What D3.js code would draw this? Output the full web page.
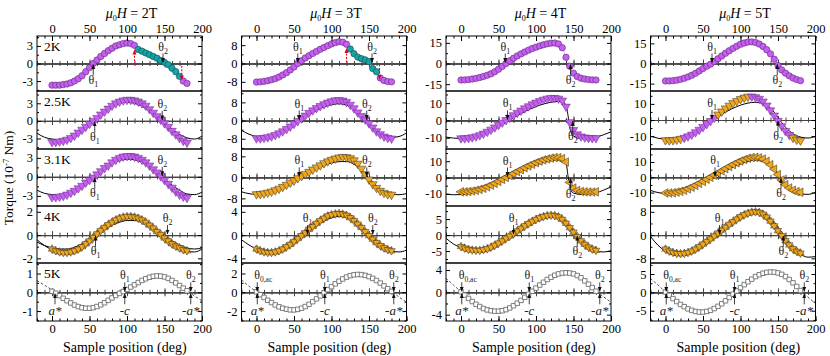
<!DOCTYPE html>
<html>
<head>
<meta charset="utf-8">
<script src="https://cdnjs.cloudflare.com/ajax/libs/d3/7.8.5/d3.min.js"></script>
<style>
  body { margin: 0; background: #fff; }
  svg { font-family: "Liberation Serif", "Times New Roman", serif; }
</style>
</head>
<body>
<svg id="chart" width="830" height="356"></svg>
<script>
// categories
const fields = ["2T", "3T", "4T", "5T"];
const temps = ["2K", "2.5K", "3.1K", "4K", "5K"];
const angles = [0,5,10,15,20,25,30,35,40,45,50,55,60,65,70,75,80,85,90,95,100,105,110,115,120,125,130,135,140,145,150,155,160,165,170,175,180];
const fitAngles = [-20,-10,0,10,20,30,40,50,60,70,80,90,100,110,120,130,140,150,160,170,180,190,200];
const xLabelTicks = [0, 50, 100, 150, 200];

// y ranges and tick labels, row by row (2K ... 5K), column by column (2T ... 5T)
const yDomains = [
  [[-4.7, 4.7], [-12, 12], [-20, 20], [-20.5, 20.5]],
  [[-4.8, 5.1], [-12.5, 13], [-16.5, 17], [-18, 18]],
  [[-4.6, 4.4], [-10.9, 10.8], [-17.5, 17.5], [-18.8, 18.5]],
  [[-2.4, 2.5], [-4.8, 5.0], [-8.75, 9.1], [-9.6, 10]],
  [[-1.53, 1.56], [-3.06, 3.12], [-5.14, 5.25], [-7.8, 8]]
];
const yTicks = [
  [[-3, 0, 3], [-8, 0, 8], [-15, 0, 15], [-15, 0, 15]],
  [[-3, 0, 3], [-8, 0, 8], [-10, 0, 10], [-10, 0, 10]],
  [[-3, 0, 3], [-8, 0, 8], [-10, 0, 10], [-10, 0, 10]],
  [[-2, 0, 2], [-4, 0, 4], [-5, 0, 5], [-8, 0, 8]],
  [[-1, 0, 1], [-2, 0, 2], [-4, 0, 4], [-5, 0, 5]]
];

// torque data (10^-7 Nm) at the sample positions in `angles`
const t2K_2T = [-3.7,-3.7,-3.7,-3.6,-3.5,-3.3,-3.0,-2.6,-2.1,-1.4,-0.7,0.0,0.6,1.2,1.7,2.2,2.6,3.0,3.2,3.4,3.5,3.4,3.1,2.4,2.1,1.8,1.5,1.2,0.9,0.5,0.2,-0.2,-0.8,-1.4,-2.2,-3.0,-3.4];
const t2K_3T = [-8.1,-8.0,-7.8,-7.5,-7.1,-6.6,-5.9,-5.0,-4.0,-2.8,-1.5,0.0,1.2,2.4,3.4,4.4,5.3,6.2,7.0,7.8,8.5,9.1,9.5,9.3,8.4,6.3,4.3,2.8,2.1,1.6,0.8,-2.2,-3.6,-6.3,-7.4,-7.9,-8.0];
const t2K_4T = [-12,-11.9,-11.7,-11.3,-10.8,-10.2,-9.4,-8.5,-7.5,-6.0,-4.2,-2.1,0.0,2.0,3.8,5.5,7.0,8.4,9.7,10.9,11.9,12.8,13.6,14.3,14.8,14.9,14.2,11.5,4.5,-2.0,-7.0,-9.5,-10.7,-11.3,-11.7,-11.9,-12];
const t2K_5T = [-13,-13,-12.8,-12.4,-11.8,-11,-10,-8.8,-7.3,-5.6,-3.8,-2.0,-0.5,1.5,3.5,5.6,7.6,9.5,11.3,12.9,14.3,15.3,16.0,16.1,15.6,14.5,12.7,10.2,7.2,3.2,-1.5,-4.8,-7.2,-9.2,-10.8,-12.0,-12.8];

const t25_2T = [-3.6,-3.6,-3.5,-3.4,-3.2,-2.9,-2.5,-2.0,-1.5,-1.0,-0.5,0.0,0.5,1.1,1.6,2.1,2.6,3.0,3.3,3.5,3.6,3.6,3.5,3.3,3.0,2.6,2.0,1.4,0.8,0.2,-0.4,-1.0,-1.7,-2.3,-2.9,-3.4,-3.7];
const t25_3T = [-7.8,-7.8,-7.6,-7.3,-6.9,-6.3,-5.6,-4.7,-3.7,-2.6,-1.4,-0.2,1.0,2.2,3.4,4.5,5.5,6.4,7.2,7.9,8.5,8.9,9.0,8.8,8.2,7.0,5.4,3.6,2.0,0.5,-1.2,-3.0,-4.7,-6.0,-7.0,-7.6,-7.9];
const t25_4T = [-10.3,-10.3,-10.1,-9.7,-9.2,-8.5,-7.6,-6.5,-5.3,-4.0,-2.6,-1.2,0.2,1.6,3.0,4.4,5.7,7.0,8.2,9.3,10.3,11.2,12.0,12.6,13.0,13.0,12.6,11.5,8.0,-1.0,-5.5,-8.0,-9.2,-9.8,-10.1,-10.2,-10.2];
const t25_5T = [-12.5,-12.6,-12.5,-12.2,-11.7,-11.0,-10.1,-9.0,-7.6,-6.0,-4.3,-2.5,-0.6,1.4,3.4,5.3,7.2,8.9,10.5,11.8,13.0,13.9,14.5,14.6,14.2,13.2,11.5,9.0,6.0,2.8,-0.5,-3.8,-6.8,-9.2,-11.0,-12.2,-12.7];

const t31_2T = [-3.2,-3.2,-3.1,-3.0,-2.8,-2.5,-2.2,-1.8,-1.4,-0.9,-0.5,-0.1,0.4,0.9,1.4,1.8,2.3,2.7,3.0,3.2,3.3,3.3,3.2,3.0,2.7,2.3,1.8,1.2,0.7,0.1,-0.5,-1.1,-1.7,-2.3,-2.8,-3.1,-3.3];
const t31_3T = [-6.4,-6.3,-6.1,-5.8,-5.4,-4.9,-4.3,-3.6,-2.8,-2.0,-1.2,-0.3,0.5,1.3,2.1,3.0,3.8,4.6,5.4,6.1,6.7,7.2,7.6,7.8,7.7,7.3,6.5,5.2,3.3,1.2,-0.8,-2.6,-4.0,-5.1,-5.9,-6.4,-6.6];
const t31_4T = [-8.8,-8.8,-8.6,-8.3,-7.9,-7.3,-6.6,-5.7,-4.7,-3.6,-2.4,-1.2,0.0,1.2,2.4,3.6,4.8,6.0,7.1,8.1,9.1,10.0,10.8,11.4,11.9,12.2,12.2,11.6,9.5,-3.0,-6.5,-8.0,-8.6,-8.8,-8.9,-8.9,-8.8];
const t31_5T = [-10.3,-10.3,-10.1,-9.7,-9.2,-8.5,-7.6,-6.5,-5.3,-4.0,-2.7,-1.3,0.0,1.4,2.8,4.2,5.6,7.0,8.3,9.5,10.6,11.6,12.4,12.9,13.0,12.7,11.9,10.4,8.2,5.3,1.8,-1.8,-4.8,-7.0,-8.5,-9.4,-9.8];

const t4K_2T = [-1.2,-1.35,-1.45,-1.5,-1.5,-1.45,-1.35,-1.2,-1.0,-0.75,-0.5,-0.2,0.1,0.4,0.65,0.9,1.1,1.3,1.45,1.55,1.6,1.6,1.55,1.45,1.3,1.1,0.85,0.6,0.3,0.05,-0.25,-0.5,-0.75,-0.95,-1.1,-1.25,-1.35];
const t4K_3T = [-2.4,-2.7,-2.9,-3.0,-3.0,-2.9,-2.7,-2.4,-2.0,-1.6,-1.1,-0.6,-0.1,0.4,1.0,1.5,2.0,2.5,2.9,3.3,3.5,3.65,3.7,3.6,3.4,3.0,2.5,1.9,1.3,0.6,-0.1,-0.7,-1.3,-1.8,-2.2,-2.5,-2.7];
const t4K_4T = [-3.6,-4.1,-4.5,-4.7,-4.8,-4.8,-4.6,-4.3,-3.8,-3.2,-2.5,-1.8,-1.0,-0.3,0.5,1.3,2.1,2.9,3.6,4.3,4.9,5.4,5.8,6.1,6.2,6.1,5.7,4.9,3.7,2.3,0.9,-0.5,-1.8,-2.9,-3.8,-4.4,-4.8];
const t4K_5T = [-4.8,-5.5,-6.0,-6.3,-6.4,-6.3,-6.0,-5.5,-4.8,-4.0,-3.1,-2.2,-1.3,-0.3,0.7,1.7,2.7,3.7,4.6,5.5,6.3,7.0,7.5,7.9,8.0,7.8,7.2,6.2,4.8,3.2,1.5,-0.2,-1.9,-3.4,-4.7,-5.6,-6.2];

const t5K_2T = [0.05,-0.05,-0.18,-0.32,-0.45,-0.57,-0.68,-0.76,-0.82,-0.85,-0.85,-0.82,-0.76,-0.67,-0.56,-0.43,-0.3,-0.17,-0.06,0.04,0.15,0.28,0.4,0.52,0.63,0.72,0.8,0.85,0.87,0.86,0.82,0.74,0.63,0.5,0.36,0.22,0.08];
const t5K_3T = [0.05,-0.25,-0.55,-0.85,-1.1,-1.35,-1.55,-1.7,-1.8,-1.87,-1.88,-1.82,-1.7,-1.52,-1.28,-1.0,-0.7,-0.38,-0.05,0.28,0.6,0.9,1.18,1.42,1.62,1.77,1.86,1.9,1.88,1.8,1.67,1.48,1.25,0.98,0.68,0.38,0.1];
const t5K_4T = [0.1,-0.5,-1.1,-1.65,-2.15,-2.55,-2.9,-3.15,-3.3,-3.38,-3.38,-3.3,-3.1,-2.8,-2.4,-1.95,-1.45,-0.9,-0.35,0.2,0.75,1.3,1.8,2.3,2.7,3.05,3.3,3.45,3.5,3.45,3.3,3.0,2.6,2.05,1.45,0.85,0.2];
const t5K_5T = [0.1,-0.8,-1.7,-2.5,-3.3,-3.9,-4.5,-4.9,-5.2,-5.35,-5.35,-5.2,-4.9,-4.4,-3.8,-3.1,-2.3,-1.4,-0.5,0.4,1.3,2.1,2.9,3.6,4.3,4.8,5.2,5.45,5.55,5.5,5.3,4.9,4.3,3.5,2.6,1.6,0.5];

// fitted curves (values at fitAngles unless they carry their own angles)
const fit25_2T = [-2.1,-2.8,-3.1,-3.2,-2.9,-2.3,-1.5,-0.5,0.6,1.6,2.4,3.0,3.2,3.0,2.5,1.7,0.7,-0.4,-1.4,-2.3,-2.9,-3.1,-2.6];
const fit25_3T = [-4.3,-6.0,-7.0,-7.4,-7.0,-5.8,-4.0,-2.0,0.3,2.5,4.4,6.0,7.0,7.4,6.8,5.0,2.2,-1.2,-4.3,-6.5,-7.4,-7.0,-5.5];
const fit25_4T_x = [-20,-10,0,10,20,30,40,50,60,70,80,90,100,110,120,130,135,140,143,146,150,160,170,180,190,200];
const fit25_4T = [-9.6,-10.2,-10.4,-10.2,-9.4,-8.0,-6.0,-3.6,-1.0,1.6,4.0,6.2,8.0,9.5,10.5,11.0,10.8,9.0,2.0,-6.0,-9.0,-10.3,-10.3,-9.6,-8.3,-6.6];
const fit25_5T = [-10.0,-11.3,-11.8,-11.6,-10.6,-9.0,-6.8,-3.8,-0.8,2.2,4.9,7.3,9.2,10.5,11.0,10.2,7.5,1.5,-4.5,-8.5,-10.6,-11.2,-10.2];
const fit31_2T = [-2.1,-2.6,-2.8,-2.9,-2.6,-2.1,-1.3,-0.4,0.5,1.4,2.1,2.6,2.8,2.7,2.3,1.6,0.7,-0.3,-1.3,-2.1,-2.7,-2.8,-2.4];
const fit31_3T = [-5.5,-6.2,-6.5,-6.4,-5.8,-4.8,-3.4,-1.8,0.0,1.7,3.2,4.5,5.5,6.0,6.0,5.0,2.8,-0.3,-3.3,-5.4,-6.4,-6.6,-6.2];
const fit31_4T_x = [-20,-10,0,10,20,30,40,50,60,70,80,90,100,110,120,130,136,140,143,146,150,160,170,180,190,200];
const fit31_4T = [-10.2,-10.6,-10.5,-10.0,-9.0,-7.5,-5.6,-3.4,-1.0,1.4,3.7,5.8,7.7,9.2,10.3,10.8,10.6,9.0,0.0,-7.0,-9.6,-10.4,-10.2,-9.4,-7.8,-5.8];
const fit31_5T = [-8.6,-10.0,-10.6,-10.4,-9.5,-8.0,-6.0,-3.6,-1.0,1.7,4.3,6.7,8.7,10.3,11.2,11.0,8.5,2.5,-4.5,-9.0,-11.0,-11.2,-9.8];
const fit4K_2Ta = [-0.4,-0.9,-1.25,-1.45,-1.5,-1.35,-1.0,-0.5,0.05,0.55,1.0,1.3,1.45,1.45,1.25,0.9,0.4,-0.15,-0.7,-1.1,-1.4,-1.45,-1.2];
const fit4K_2Tb = [-0.6,-0.9,-1.1,-1.2,-1.2,-1.05,-0.75,-0.35,0.1,0.5,0.85,1.1,1.25,1.25,1.1,0.8,0.4,-0.05,-0.5,-0.85,-1.1,-1.2,-1.1];
const fit4K_3T = [-0.8,-1.7,-2.4,-2.8,-2.9,-2.7,-2.1,-1.3,-0.4,0.6,1.6,2.4,3.0,3.2,3.0,2.4,1.4,0.2,-1.0,-2.0,-2.7,-2.9,-2.6];
const fit4K_4T = [-1.0,-2.8,-4.0,-4.8,-5.0,-4.7,-3.9,-2.7,-1.2,0.4,2.0,3.4,4.5,5.3,5.6,5.2,3.8,1.5,-1.3,-3.6,-4.9,-5.3,-4.9];
const fit4K_5T = [-0.5,-3.5,-5.6,-6.8,-7.1,-6.7,-5.6,-4.0,-2.0,0.2,2.4,4.4,6.1,7.3,7.8,7.5,5.8,2.8,-0.9,-4.3,-6.6,-7.6,-7.4];

// dashed extensions at 5K ([angle, torque])
const dash5K = [
  [[[-20,0.62],[-10,0.38],[0,0.12],[10,-0.16]], [[172,0.3],[180,0.08],[190,-0.2],[200,-0.45]]],
  [[[-20,1.3],[-10,0.65],[0,0.05],[8,-0.4]], [[172,0.55],[180,0.1],[190,-0.5],[200,-1.05]]],
  [[[-20,2.5],[-10,1.3],[0,0.1],[8,-0.9]], [[172,1.2],[180,0.2],[190,-0.8],[200,-1.8]]],
  [[[-20,3.8],[-10,2.0],[0,0.1],[8,-1.4]], [[172,2.2],[180,0.5],[190,-1.3],[200,-3.0]]]
];

const series = [
  [t2K_2T, t2K_3T, t2K_4T, t2K_5T],
  [t25_2T, t25_3T, t25_4T, t25_5T],
  [t31_2T, t31_3T, t31_4T, t31_5T],
  [t4K_2T, t4K_3T, t4K_4T, t4K_5T],
  [t5K_2T, t5K_3T, t5K_4T, t5K_5T]
];
const fits = [
  [[], [], [], []],
  [[[fitAngles, fit25_2T]], [[fitAngles, fit25_3T]], [[fit25_4T_x, fit25_4T]], [[fitAngles, fit25_5T]]],
  [[[fitAngles, fit31_2T]], [[fitAngles, fit31_3T]], [[fit31_4T_x, fit31_4T]], [[fitAngles, fit31_5T]]],
  [[[fitAngles, fit4K_2Ta], [fitAngles, fit4K_2Tb]], [[fitAngles, fit4K_3T]], [[fitAngles, fit4K_4T]], [[fitAngles, fit4K_5T]]],
  [[], [], [], []]
];

// marker kinds and colour groups
const markerKinds = [
  ["circle", "circle", "circle", "circle"],
  ["triDown", "triDown", "triDown", "triDown"],
  ["triDown", "triDown", "triLeft", "triLeft"],
  ["star", "star", "star", "star"],
  ["square", "square", "square", "square"]
];
const baseColors = [
  ["violet", "violet", "violet", "violet"],
  ["violet", "violet", "violet", "violet"],
  ["violet", "orange", "orange", "orange"],
  ["orange", "orange", "orange", "orange"],
  ["open", "open", "open", "open"]
];
// [row, col, colour, [from, to] angle ranges]
const altColors = [
  [0, 0, "teal", [[115, 170]]],
  [0, 1, "teal", [[125, 160]]],
  [1, 3, "orange", [[0, 20], [70, 110], [170, 180]]]
];

// theta arrows: [subscript, angle, side]
const thetaMarks = [
  [[["1",55,"below"],["2",148,"above"]], [["1",55,"above"],["2",154,"above"]], [["1",59,"above"],["2",146,"below"]], [["1",62,"above"],["2",149,"below"]]],
  [[["1",57,"below"],["2",147,"above"]], [["1",57,"above"],["2",147,"above"]], [["1",62,"above"],["2",149,"below"]], [["1",62,"above"],["2",150,"below"]]],
  [[["1",57,"below"],["2",147,"above"]], [["1",57,"above"],["2",147,"above"]], [["1",62,"above"],["2",146,"below"]], [["1",66,"above"],["2",154,"below"]]],
  [[["1",58,"below"],["2",154,"above"]], [["1",68,"above"],["2",155,"above"]], [["1",70,"above"],["2",155,"below"]], [["1",72,"above"],["2",157,"below"]]],
  [[["1",97,"above"],["2",185,"above"]], [["0,ac",1,"above"],["1",91,"above"],["2",183,"above"]], [["0,ac",1,"above"],["1",91,"above"],["2",185,"above"]], [["0,ac",1,"above"],["1",92,"above"],["2",185,"above"]]]
];
const axisMarks = [
  [["a*",4],["-c",97],["-a*",185]],
  [["a*",1],["-c",91],["-a*",183]],
  [["a*",1],["-c",91],["-a*",185]],
  [["a*",1],["-c",92],["-a*",185]]
];
// red dashed arrows in the 2K row: [angle, from, to]
const redArrows = [
  [[110, -0.2, 2.3], [173, -0.4, -2.8]],
  [[120, 0.4, 6.5], [164, -0.4, -6.9]],
  [], []
];

const palette = {
  violet: { fill: "#c65ef2", stroke: "#5a2a74" },
  teal: { fill: "#17a3a6", stroke: "#0b4e50" },
  orange: { fill: "#f1a71c", stroke: "#2a2a2a" },
  open: { fill: "#ffffff", stroke: "#6f6f6f" }
};

const svg = d3.select("#chart");
const colLeft = [37, 241.5, 446, 650.5];
const panelW = 165;
const rowEdges = [36, 91, 149, 206, 263, 321];

const defs = svg.append("defs");
[["ah-k", "#111"], ["ah-r", "#e3001b"]].forEach(([id, col]) => {
  defs.append("marker").attr("id", id).attr("viewBox", "0 0 10 10")
    .attr("refX", 9).attr("refY", 5).attr("markerUnits", "userSpaceOnUse")
    .attr("markerWidth", 5).attr("markerHeight", 5).attr("orient", "auto")
    .append("path").attr("d", "M0,1L10,5L0,9z").attr("fill", col);
});

function styleAxis(g) {
  g.attr("font-family", "Liberation Serif, serif").attr("font-size", 12.5);
  g.select(".domain").remove();
  g.selectAll("line").attr("stroke", "#000");
  g.selectAll("text").attr("fill", "#000");
}

function colorAt(r, c, a) {
  let col = baseColors[r][c];
  altColors.forEach(([ar, ac, name, ranges]) => {
    if (ar === r && ac === c && ranges.some(([lo, hi]) => a >= lo && a <= hi)) col = name;
  });
  return col;
}

function drawMarkers(g, pts, kind) {
  if (kind === "circle") {
    g.selectAll(null).data(pts).enter().append("circle")
      .attr("cx", d => d.x).attr("cy", d => d.y).attr("r", 3.2)
      .attr("fill", d => palette[d.col].fill).attr("stroke", d => palette[d.col].stroke).attr("stroke-width", 0.6);
    return;
  }
  const rots = kind === "star" ? [0, 180] : kind === "triDown" ? [180] : kind === "triLeft" ? [-90] : [0];
  const sym = kind === "square" ? d3.symbol(d3.symbolSquare, 20)
    : d3.symbol(d3.symbolTriangle, kind === "star" ? 24 : 32);
  rots.forEach(rot => {
    g.selectAll(null).data(pts).enter().append("path")
      .attr("d", sym)
      .attr("transform", d => `translate(${d.x},${d.y}) rotate(${rot})`)
      .attr("fill", d => palette[d.col].fill)
      .attr("stroke", d => palette[d.col].stroke)
      .attr("stroke-width", kind === "square" ? 0.9 : 0.5);
  });
}

function thetaMark(g, x0, y0, sub, side) {
  const above = side === "above";
  g.append("line").attr("x1", x0).attr("x2", x0)
    .attr("y1", above ? y0 - 10 : y0 + 12).attr("y2", above ? y0 - 1 : y0 + 1)
    .attr("stroke", "#111").attr("stroke-width", 0.8).attr("marker-end", "url(#ah-k)");
  const t = g.append("text").attr("x", x0 + (sub.length > 1 ? 6 : 0)).attr("y", above ? y0 - 13 : y0 + 20)
    .attr("text-anchor", "middle").attr("font-size", 12).attr("fill", "#222");
  t.append("tspan").text("θ");
  t.append("tspan").attr("dy", 3).attr("font-size", sub.length > 1 ? 7.5 : 8).text(sub);
}

function axisMark(g, x0, y0, label) {
  g.append("line").attr("x1", x0).attr("x2", x0).attr("y1", y0 + 12).attr("y2", y0 + 1.5)
    .attr("stroke", "#111").attr("stroke-width", 0.8).attr("marker-end", "url(#ah-k)");
  const t = g.append("text").attr("x", x0).attr("y", y0 + 23).attr("text-anchor", "middle")
    .attr("font-size", 13).attr("fill", "#222");
  if (label.startsWith("-")) t.append("tspan").text("-");
  t.append("tspan").attr("font-style", "italic").text(label.replace("-", ""));
}

temps.forEach((temp, r) => {
  fields.forEach((field, c) => {
    const x0 = colLeft[c], x1 = colLeft[c] + panelW;
    const yTop = rowEdges[r], yBot = rowEdges[r + 1];
    const x = d3.scaleLinear().domain([-20, 200]).range([x0, x1]);
    const y = d3.scaleLinear().domain(yDomains[r][c]).range([yBot, yTop]);
    const clipId = `clip-${r}-${c}`;
    defs.append("clipPath").attr("id", clipId).append("rect")
      .attr("x", x0).attr("y", yTop).attr("width", panelW).attr("height", yBot - yTop);

    const g = svg.append("g");
    const inner = g.append("g").attr("clip-path", `url(#${clipId})`);

    // zero line with crossing ticks
    const y0 = y(0);
    [[d3.axisBottom, x.ticks(22), 2.5], [d3.axisTop, x.ticks(22), 2.5],
     [d3.axisBottom, xLabelTicks, 4], [d3.axisTop, xLabelTicks, 4]].forEach(([ax, vals, size]) => {
      inner.append("g").attr("transform", `translate(0,${y0})`)
        .call(ax(x).tickValues(vals).tickSize(size).tickSizeOuter(0).tickFormat(""))
        .call(s => s.selectAll("line,path").attr("stroke", "#444").attr("stroke-width", 1));
    });

    // fitted curves
    const line = d3.line().x(d => x(d[0])).y(d => y(d[1])).curve(d3.curveMonotoneX);
    fits[r][c].forEach(([xs, ys]) => {
      inner.append("path").datum(xs.map((a, i) => [a, ys[i]]))
        .attr("d", line).attr("fill", "none").attr("stroke", "#000").attr("stroke-width", 1);
    });
    if (r === 4) {
      dash5K[c].forEach(seg => {
        inner.append("path").datum(seg).attr("d", line).attr("fill", "none")
          .attr("stroke", "#222").attr("stroke-width", 0.8).attr("stroke-dasharray", "2.5,2");
      });
    }

    const vals = series[r][c];
    const pts = angles.map((a, i) => ({ x: x(a), y: y(vals[i]), col: colorAt(r, c, a) }));
    if (r === 0) {
      inner.append("path").datum(pts).attr("d", d3.line().x(d => d.x).y(d => d.y))
        .attr("fill", "none").attr("stroke", "#cfa2ea").attr("stroke-width", 0.8);
    }
    drawMarkers(inner, pts, markerKinds[r][c]);

    // red dashed arrows
    if (r === 0) {
      redArrows[c].forEach(([a, from, to]) => {
        g.append("line").attr("x1", x(a)).attr("x2", x(a)).attr("y1", y(from)).attr("y2", y(to))
          .attr("stroke", "#e3001b").attr("stroke-width", 1.1).attr("stroke-dasharray", "2,1.5")
          .attr("marker-end", "url(#ah-r)");
      });
    }

    // annotations
    thetaMarks[r][c].forEach(([sub, a, side]) => thetaMark(g, x(a), y0, sub, side));
    if (r === 4) axisMarks[c].forEach(([label, a]) => axisMark(g, x(a), y0, label));

    // frame and axes
    g.append("rect").attr("x", x0).attr("y", yTop).attr("width", panelW).attr("height", yBot - yTop)
      .attr("fill", "none").attr("stroke", "#000").attr("stroke-width", 1);

    const ticks = yTicks[r][c];
    const step = ticks[1] - ticks[0];
    const minor = d3.range(ticks[0] - step / 2, ticks[ticks.length - 1] + step, step)
      .filter(v => v > yDomains[r][c][0] && v < yDomains[r][c][1]);

    g.append("g").attr("transform", `translate(${x0},0)`)
      .call(d3.axisLeft(y).tickValues(ticks).tickSize(-4).tickPadding(4).tickFormat(d => String(d)))
      .call(styleAxis);
    g.append("g").attr("transform", `translate(${x0},0)`)
      .call(d3.axisLeft(y).tickValues(minor).tickSize(-2).tickFormat("")).call(styleAxis);
    g.append("g").attr("transform", `translate(${x1},0)`)
      .call(d3.axisRight(y).tickValues(ticks).tickSize(-4).tickFormat("")).call(styleAxis);
    g.append("g").attr("transform", `translate(${x1},0)`)
      .call(d3.axisRight(y).tickValues(minor).tickSize(-2).tickFormat("")).call(styleAxis);

    if (r === 0) {
      g.append("g").attr("transform", `translate(0,${yTop})`)
        .call(d3.axisTop(x).tickValues(xLabelTicks).tickSize(-5).tickPadding(3).tickFormat(d => String(d)))
        .call(styleAxis);
      g.append("g").attr("transform", `translate(0,${yTop})`)
        .call(d3.axisTop(x).tickValues(x.ticks(22)).tickSize(-2.5).tickFormat("")).call(styleAxis);
      const title = g.append("text").attr("x", x(106)).attr("y", 18).attr("text-anchor", "middle").attr("font-size", 14);
      title.append("tspan").attr("font-style", "italic").text("μ");
      title.append("tspan").attr("dy", 3).attr("font-size", 8).text("0");
      title.append("tspan").attr("dy", -3).attr("font-style", "italic").text("H");
      title.append("tspan").text(` = ${field}`);
    }
    if (r === 4) {
      g.append("g").attr("transform", `translate(0,${yBot})`)
        .call(d3.axisBottom(x).tickValues(xLabelTicks).tickSize(-5).tickPadding(3).tickFormat(d => String(d)))
        .call(styleAxis);
      g.append("g").attr("transform", `translate(0,${yBot})`)
        .call(d3.axisBottom(x).tickValues(x.ticks(22)).tickSize(-2.5).tickFormat("")).call(styleAxis);
      g.append("text").attr("x", x(97)).attr("y", 352).attr("text-anchor", "middle")
        .attr("font-size", 14).text("Sample position (deg)");
    }
    if (c === 0) {
      g.append("text").attr("x", x0 + 7).attr("y", yTop + 15).attr("font-size", 13.5).text(temp);
    }
  });
});

const ylab = svg.append("text").attr("transform", "translate(13,178) rotate(-90)")
  .attr("text-anchor", "middle").attr("font-size", 13.5);
ylab.append("tspan").text("Torque (10");
ylab.append("tspan").attr("dy", -4).attr("font-size", 8.5).text("-7");
ylab.append("tspan").attr("dy", 4).text(" Nm)");
</script>
</body>
</html>
